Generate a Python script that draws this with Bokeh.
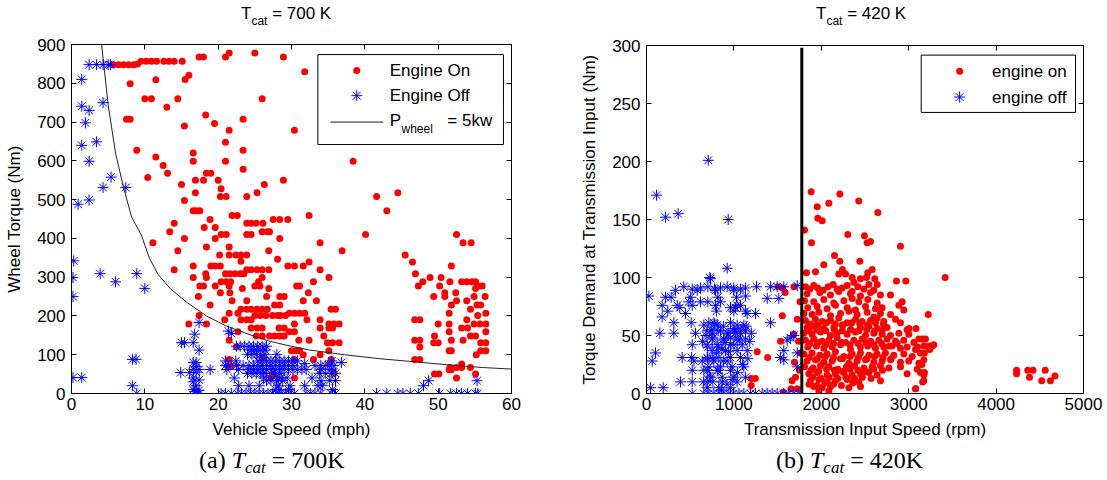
from bokeh.plotting import figure
from bokeh.layouts import row, column
from bokeh.models import Range1d, FixedTicker, LinearAxis, CustomJSTickFormatter, Div
from bokeh.core.properties import value
from bokeh.embed import file_html
from bokeh.resources import INLINE

FONT = "Liberation Sans"
SERIF = "Liberation Serif"
RED = "#ff0000"
BLUE = "#0000ff"

# ---------------- panel (a): Tcat = 700 K ----------------
A_X_TICKS = [0, 10, 20, 30, 40, 50, 60]
A_Y_TICKS = [0, 100, 200, 300, 400, 500, 600, 700, 800, 900]

# engine on: (vehicle speed mph, wheel torque Nm)
A_ON = [
    (5.7, 848), (6.4, 848), (7.1, 848), (7.8, 848), (8.5, 848), (9.0, 850),
    (9.5, 857), (10.2, 857), (10.9, 857), (11.6, 857), (12.6, 857), (13.3, 857), (14.0, 857), (15.1, 857),
    (17.4, 868), (18.0, 868), (21.0, 868), (21.5, 878), (25.0, 878), (28.9, 868),
    (31.8, 830), (8.0, 799), (16.0, 821), (15.5, 810), (11.5, 809),
    (10.0, 760), (10.9, 760), (14.5, 760), (26.0, 760),
    (13.0, 738), (7.5, 707), (8.0, 707), (23.4, 707), (18.3, 718), (19.5, 696), (15.4, 690),
    (21.5, 679), (30.4, 679), (21.0, 648), (8.9, 627), (23.4, 627), (11.5, 610), (21.0, 599),
    (16.6, 599), (38.4, 599), (12.5, 588), (16.6, 620), (23.4, 578), (13.1, 568), (18.4, 568),
    (19.0, 568), (10.4, 557), (16.9, 550), (20.0, 550), (28.9, 550), (18.0, 550), (15.0, 539),
    (26.3, 539), (20.4, 528), (16.9, 518), (25.3, 518), (44.5, 518), (20.3, 508), (21.1, 508),
    (23.9, 508), (41.6, 508), (15.4, 498), (16.6, 471), (17.0, 471), (17.5, 471), (43.0, 471),
    (21.9, 459), (22.6, 459), (32.4, 459), (18.9, 449), (27.5, 449), (28.4, 449), (29.5, 449),
    (14.0, 439), (23.9, 439), (24.5, 439), (25.2, 439), (26.1, 439), (18.1, 428), (19.6, 428),
    (13.4, 417), (26.0, 417), (26.7, 417), (27.0, 417), (20.4, 410), (21.1, 410), (23.9, 410),
    (24.5, 410), (40.1, 410), (15.4, 400), (19.6, 400), (28.4, 400), (11.1, 389), (33.9, 389),
    (21.5, 378), (18.4, 378), (14.5, 368), (26.9, 368), (36.9, 368), (20.2, 357), (21.5, 357),
    (22.4, 357), (23.1, 357), (23.9, 357), (45.5, 357), (28.1, 346), (23.1, 341), (46.5, 339),
    (32.4, 339), (52.5, 410), (53.4, 389), (54.5, 389), (51.8, 329),
    (16.6, 329), (19.0, 329), (19.6, 329), (20.3, 329), (23.9, 319), (24.5, 319), (25.3, 319),
    (26.0, 319), (29.5, 329), (30.4, 329), (31.6, 329),
    (14.0, 319), (26.9, 319), (33.9, 319),
    (18.3, 309), (21.0, 309), (21.6, 309), (22.3, 309), (23.0, 309), (23.5, 309), (46.9, 309),
    (16.6, 299), (18.4, 299), (26.0, 299), (35.1, 299), (48.9, 299), (50.4, 299),
    (20.4, 288), (21.1, 288), (21.7, 288), (25.5, 288), (33.0, 288), (47.9, 288), (51.6, 288),
    (53.2, 288), (53.9, 288), (54.6, 288), (55.1, 288),
    (17.5, 277), (18.0, 277), (19.6, 277), (21.5, 277), (25.0, 277), (25.7, 277), (30.7, 277),
    (31.1, 277), (47.3, 277), (50.2, 277), (55.5, 277), (56.0, 277),
    (23.3, 271), (26.9, 271), (55.1, 271),
    (20.3, 260), (21.6, 260), (32.3, 260), (50.9, 260), (52.4, 260),
    (17.3, 250), (26.6, 250), (28.4, 250), (29.0, 250), (49.4, 250), (50.9, 250), (54.9, 250), (56.4, 250),
    (21.9, 239), (23.9, 239), (31.6, 239), (33.4, 239), (52.5, 239), (53.9, 239),
    (18.9, 228), (27.7, 228), (28.4, 228), (51.8, 228), (55.3, 228), (55.8, 228),
    (23.1, 217), (23.9, 217), (24.5, 217), (25.3, 217), (26.0, 217), (26.7, 217), (35.4, 217),
    (36.0, 217), (54.4, 217),
    (21.5, 207), (22.7, 207), (29.7, 207), (30.4, 207), (31.1, 207), (31.8, 207), (51.5, 207), (56.5, 207),
    (17.4, 201), (25.0, 201), (25.7, 201), (26.5, 201), (27.4, 201), (28.1, 201), (28.5, 201),
    (29.2, 201), (55.4, 201),
    (20.9, 190), (23.1, 190), (23.9, 190), (24.5, 190), (32.1, 190), (33.9, 190), (46.8, 190),
    (47.5, 190), (53.9, 190),
    (16.0, 179), (18.4, 179), (30.4, 179), (35.1, 179), (35.8, 179), (36.5, 179), (50.0, 179),
    (51.5, 179), (54.9, 179), (55.7, 179), (56.5, 179),
    (24.5, 169), (25.3, 169), (26.0, 169), (28.3, 169), (29.0, 169), (33.9, 169), (35.1, 169),
    (35.6, 169), (53.2, 169), (54.0, 169),
    (22.7, 159), (29.7, 159), (30.4, 159), (51.5, 159), (56.5, 159),
    (25.2, 148), (26.0, 148), (27.0, 148), (27.7, 148), (28.4, 148), (29.0, 148), (34.4, 148),
    (49.5, 148), (54.4, 148), (55.1, 148),
    (21.5, 137), (31.0, 137), (32.4, 137), (46.8, 137), (47.5, 137), (51.8, 137), (53.4, 137),
    (49.4, 131), (50.0, 131), (55.8, 131), (56.5, 131), (34.9, 131), (35.6, 131), (36.5, 131),
    (22.5, 120), (47.5, 120),
    (30.0, 110), (30.6, 110), (31.1, 110), (35.1, 110), (51.5, 110), (51.8, 110), (55.8, 110), (56.5, 110),
    (31.6, 100), (33.9, 100), (55.2, 100),
    (21.5, 88), (30.4, 88), (33.0, 88), (35.4, 88), (46.8, 88), (47.5, 88),
    (53.2, 76), (51.6, 67), (52.5, 67), (53.2, 67), (54.4, 67), (51.5, 61), (51.8, 61),
    (49.5, 50), (50.1, 50), (27.5, 50), (55.1, 50), (30.4, 40), (52.5, 40),
    (21.8, 70), (27.2, 42), (35.2, 77), (35.8, 52), (26.0, 92),
]

# engine off: (vehicle speed mph, wheel torque Nm)
A_OFF = [
    (2.4, 848), (3.4, 848), (4.3, 848), (5.0, 848), (5.3, 848),
    (1.4, 810), (4.3, 750), (1.4, 741), (2.4, 730), (1.9, 698), (3.4, 649), (1.4, 640),
    (2.4, 599), (5.4, 558), (4.3, 531), (7.4, 531), (2.4, 499), (0.9, 488),
    (0.3, 342), (3.9, 309), (8.9, 309), (0.2, 299), (6.0, 288), (10.0, 271), (0.2, 250),
    (8.3, 88), (8.8, 88), (0.2, 41), (1.4, 41), (8.3, 20), (8.9, 0),
    (17.4, 183), (21.4, 161), (21.8, 155), (16.8, 153), (15.0, 131), (15.4, 131), (16.6, 131),
    (17.4, 112), (14.9, 54), (16.1, 54), (18.9, 62),
    (16.6, 80), (17.0, 80), (17.0, 70), (17.4, 62), (16.6, 62), (17.0, 55), (16.6, 40),
    (17.4, 35), (16.6, 30), (17.0, 20), (16.6, 10), (17.4, 8), (17.0, 0), (17.4, 0), (16.8, 5),
    (22.5, 122), (23.0, 122), (23.6, 122), (24.2, 122), (24.8, 122), (25.4, 122), (26.0, 122), (26.6, 122),
    (24.5, 112), (25.2, 112), (25.8, 112), (26.4, 112),
    (24.0, 101), (24.6, 101), (25.2, 101), (25.8, 101), (26.4, 101), (28.0, 101),
    (21.0, 84), (22.4, 84), (25.4, 84), (26.0, 84), (26.6, 84), (27.2, 84), (27.8, 84), (28.4, 84),
    (29.0, 84), (29.6, 84), (30.2, 84), (30.8, 84), (35.5, 84), (36.8, 80),
    (21.0, 72), (21.4, 72), (22.5, 72), (23.4, 72), (24.2, 72), (24.8, 72), (25.4, 72), (26.0, 72),
    (26.6, 72), (27.2, 72), (27.8, 72), (28.4, 72), (29.0, 72), (29.6, 72), (30.2, 72), (33.2, 72),
    (34.0, 72), (34.6, 72), (35.2, 72), (35.8, 72),
    (21.2, 62), (22.8, 62), (24.2, 62), (24.8, 62), (25.4, 62), (26.0, 62), (26.6, 62), (27.2, 62),
    (27.8, 62), (28.4, 62), (29.0, 62), (29.6, 62), (30.2, 62), (30.8, 62), (31.4, 62), (32.0, 62),
    (34.0, 62), (35.4, 62),
    (24.0, 52), (24.6, 52), (25.2, 52), (25.8, 52), (26.4, 52), (27.6, 52), (28.4, 52), (33.8, 52),
    (34.6, 52), (35.4, 52), (36.0, 52),
    (22.2, 40), (26.2, 40), (28.0, 40), (28.6, 40), (29.4, 40), (32.8, 40),
    (26.6, 33), (27.2, 33), (28.0, 33), (28.8, 33), (34.0, 33), (35.2, 33), (36.0, 33),
    (22.8, 20), (24.2, 20), (25.6, 20), (28.2, 20), (29.8, 20), (31.8, 20), (33.6, 20), (34.2, 20),
    (27.8, 10), (28.4, 10), (29.6, 10), (35.6, 10),
    (20.4, 0), (21.0, 0), (21.8, 0), (22.6, 0), (23.2, 0), (23.8, 0), (24.4, 0), (25.0, 0),
    (25.6, 0), (26.2, 0), (26.8, 0), (27.4, 0), (28.0, 0), (28.6, 0), (29.2, 0), (29.8, 0),
    (30.4, 0), (32.0, 0), (32.6, 0), (33.2, 0), (34.0, 0), (35.4, 0), (36.0, 0),
    (41.6, 0), (43.0, 0), (44.5, 0), (45.2, 0), (46.2, 0), (47.3, 0),
    (50.2, 0), (51.7, 0), (52.5, 0), (53.2, 0), (54.0, 0), (55.1, 0), (55.4, 0),
    (48.0, 20), (48.7, 33), (55.3, 33), (31.8, 77),
]

# P_wheel = 5 kW curve
CURVE_SPEED = [4.1, 5.0, 6.0, 7.1, 8.2, 9.5, 10.6, 11.8, 13.5, 15.8, 18.4, 21.0, 24.1, 27.0,
               29.2, 32.5, 37.2, 41.9, 46.6, 51.3, 56.0, 60.0]
CURVE_TORQUE = [900, 745, 620, 531, 455, 410, 350, 307, 270, 234, 200, 175, 153, 135,
                125, 112, 100, 90, 82, 74, 67, 63]

# ---------------- panel (b): Tcat = 420 K ----------------
B_X_TICKS = [0, 1000, 2000, 3000, 4000, 5000]
B_Y_TICKS = [0, 50, 100, 150, 200, 250, 300]
B_THRESHOLD_RPM = 1777

# engine on: (transmission input speed rpm, torque demand Nm)
B_ON = [
    (1884, 174), (2212, 172), (2429, 166), (1953, 161), (2086, 164), (1960, 151), (2010, 149),
    (2647, 156), (1808, 141), (1888, 130), (2303, 137), (2494, 136), (2525, 130), (2563, 131),
    (2906, 127), (3417, 100), (2860, 97), (2967, 97),
    (2151, 119), (2212, 114), (2441, 114), (2029, 111), (1934, 105), (1830, 104), (2582, 107),
    (2517, 100), (2242, 107), (2353, 100), (2532, 104), (2200, 103), (2372, 96), (2612, 99),
    (2639, 94), (2277, 103), (2448, 99),
    (1819, 92), (1869, 90), (1914, 93), (1960, 91), (2021, 89), (2078, 92), (2136, 94), (2181, 90),
    (2239, 91), (2296, 93), (2353, 88), (2418, 92), (2487, 90), (2544, 94), (2601, 89),
    (1838, 86), (1983, 87), (2105, 85), (2200, 88), (2334, 86), (2448, 84), (2563, 87), (2677, 85),
    (1808, 80), (1914, 79), (2029, 81), (2143, 78), (2258, 80), (2353, 82), (2429, 79), (2532, 81),
    (2639, 78), (2792, 85), (2925, 79),
    (1846, 74), (1953, 75), (2067, 73), (2162, 76), (2296, 74), (2391, 72), (2506, 75), (2620, 73),
    (2696, 74), (2887, 76), (2944, 72),
    (1800, 69), (1895, 68), (1972, 70), (2105, 67), (2220, 69), (2315, 71), (2410, 68), (2525, 70),
    (2601, 66), (2677, 69), (2792, 68), (3224, 68),
    (1819, 63), (1933, 64), (2010, 62), (2105, 63), (2200, 65), (2296, 61), (2391, 64), (2467, 62),
    (2563, 63), (2639, 65), (2715, 62), (2849, 64), (2906, 61),
    (1838, 57), (1914, 58), (2029, 56), (2143, 57), (2239, 59), (2334, 55), (2448, 57), (2544, 58),
    (2639, 56), (2753, 57), (2982, 55), (3004, 56), (3084, 56), (3192, 47),
    (1800, 52), (1895, 51), (1991, 53), (2105, 50), (2181, 52), (2296, 51), (2391, 53), (2506, 50),
    (2601, 52), (2696, 51), (2792, 50), (2887, 52), (3001, 51), (3116, 47),
    (1819, 46), (1914, 47), (2010, 45), (2086, 46), (2181, 48), (2277, 44), (2372, 46), (2467, 47),
    (2563, 45), (2658, 46), (2753, 47), (2849, 45), (2944, 46), (3059, 44), (3154, 47), (3230, 41),
    (3287, 42),
    (1846, 40), (1945, 41), (2029, 39), (2124, 40), (2220, 42), (2334, 38), (2448, 40), (2532, 41),
    (2620, 39), (2715, 40), (2811, 41), (2906, 39), (2982, 40), (3078, 38), (3173, 41), (3249, 40),
    (1800, 34), (1895, 35), (1983, 33), (2067, 34), (2162, 36), (2258, 32), (2353, 34), (2448, 35),
    (2544, 33), (2639, 34), (2734, 35), (2830, 33), (2944, 34), (3040, 32), (3135, 35),
    (1838, 28), (1933, 29), (2029, 27), (2124, 28), (2220, 30), (2315, 26), (2410, 28), (2506, 29),
    (2601, 27), (2696, 28), (2792, 29), (2906, 27), (3001, 28), (3116, 26), (3173, 29),
    (1808, 23), (1907, 22), (1991, 24), (2086, 23), (2189, 21), (2288, 23), (2380, 24), (2487, 22),
    (2582, 23), (2677, 24), (2773, 22), (2906, 23), (3097, 21),
    (1857, 17), (1953, 18), (2067, 16), (2162, 17), (2258, 18), (2353, 16), (2448, 17), (2544, 18),
    (2639, 16), (2982, 17), (3135, 18), (3173, 16),
    (1876, 11), (1972, 12), (2067, 10), (2162, 11), (2296, 12), (2429, 10), (2677, 11), (3173, 11),
    (1914, 6), (2010, 5), (2105, 6), (2315, 5), (2448, 6), (3078, 4), (1972, 2), (2086, 2),
    (1870, 43), (1960, 44), (2050, 42), (2140, 43), (2230, 44), (2330, 42), (2420, 43), (2510, 44),
    (2600, 42), (2690, 43), (2780, 41), (2870, 43),
    (1860, 31), (1955, 30), (2045, 32), (2140, 31), (2240, 30), (2330, 32), (2425, 31), (2520, 30),
    (2610, 32), (2705, 31), (2800, 30),
    (1880, 20), (1970, 19), (2060, 21), (2150, 20), (2240, 19), (2330, 21), (2420, 20), (2510, 19),
    (2600, 21), (2700, 20),
    (1870, 60), (1960, 59), (2060, 61), (2160, 60), (2250, 59), (2350, 61), (2440, 60), (2530, 59),
    (2620, 61), (2710, 60),
    (1860, 54), (1950, 55), (2050, 54), (2150, 55), (2240, 54), (2340, 55), (2430, 54), (2520, 55),
    (2610, 54), (2700, 55),
    (1900, 14), (2000, 13), (2090, 14), (2190, 13), (2280, 14), (2380, 13), (2470, 14), (2570, 13),
    (1860, 8), (1950, 7), (2040, 9), (2140, 8), (2230, 7), (2360, 9),
    (1558, 91), (1586, 87), (1506, 92), (1554, 67), (1534, 45), (1266, 36), (1386, 31), (1198, 13),
    (1246, 13), (1198, 7), (1686, 92), (1725, 64), (1757, 79), (1686, 51), (1693, 27), (1705, 14),
    (1666, 11), (1654, 4), (1725, 4), (1566, 1), (1740, 45), (1760, 35), (1750, 20),
    (3100, 40), (3180, 35), (3240, 38), (3270, 41), (3150, 25), (3180, 18), (3160, 10), (3080, 4),
    (4234, 20), (4234, 17), (4362, 20), (4422, 20), (4382, 14), (4562, 20), (4522, 11), (4622, 11),
    (4673, 15),
]

# engine off: (transmission input speed rpm, torque demand Nm)
B_OFF = [
    (706, 201), (115, 171), (217, 152), (362, 155), (935, 150), (923, 108), (725, 100), (732, 99),
    (27, 84),
    (427, 92), (523, 90), (618, 91), (702, 92), (778, 90), (847, 91), (923, 92), (999, 91),
    (1076, 90), (1133, 91), (1259, 92), (1419, 92), (1495, 92), (1571, 92), (1724, 93),
    (332, 89), (580, 89), (790, 89), (999, 89),
    (217, 83), (282, 83), (504, 83), (816, 83), (1030, 83), (1133, 84),
    (484, 79), (618, 79), (702, 79), (847, 79), (1381, 82), (1514, 82),
    (179, 76), (351, 76), (523, 76), (790, 76), (1037, 76), (1076, 76),
    (244, 71), (801, 71), (999, 71), (1133, 71),
    (381, 74), (961, 74), (1018, 74),
    (446, 69), (1152, 69), (1247, 69), (179, 66),
    (313, 61), (511, 61), (713, 61), (771, 61), (961, 61), (1419, 61),
    (656, 59), (809, 59), (1037, 59), (1114, 59),
    (153, 52), (313, 52), (561, 52), (751, 52), (923, 52), (1076, 52),
    (694, 54), (847, 54), (999, 54), (1133, 54),
    (1686, 50), (1648, 48), (1610, 46),
    (751, 47), (885, 47), (1037, 47), (1133, 47),
    (523, 42), (694, 42), (809, 42), (961, 42), (1095, 42),
    (751, 37), (904, 37), (1037, 37), (1152, 37), (1571, 37),
    (103, 35), (1724, 35),
    (408, 31), (515, 31), (694, 31), (828, 31), (961, 31), (1076, 31), (1533, 31), (1571, 29),
    (65, 28), (542, 28), (637, 28), (771, 28), (923, 28),
    (713, 23), (847, 23), (980, 23), (1114, 23), (1724, 23),
    (523, 20), (656, 20), (809, 20), (961, 20),
    (732, 14), (866, 14), (999, 14), (1133, 14),
    (389, 10), (523, 10), (694, 10), (866, 10), (1037, 10),
    (46, 5), (191, 5), (694, 5), (828, 5), (961, 5),
    (523, 0), (656, 0), (713, 0), (771, 0), (828, 0), (885, 0), (942, 0), (999, 0), (1057, 0),
    (1114, 0), (1190, 0), (1247, 0), (1324, 0), (1381, 0), (1438, 0), (1495, 0), (1571, 0),
    (1629, 0), (1686, 0), (1743, 0),
    (760, 10), (820, 20), (880, 28), (940, 36), (1000, 42), (1060, 46),
    (700, 20), (760, 30), (820, 40), (880, 46), (940, 52), (1000, 56),
    (700, 40), (760, 48), (820, 54), (880, 58),
    (650, 10), (700, 30), (740, 55), (780, 60), (640, 45), (680, 50), (720, 15), (800, 35),
    (860, 38), (900, 44), (960, 48), (1020, 52), (1080, 55), (1140, 58), (1180, 45), (1200, 52),
    (1160, 30), (1100, 25), (1040, 18), (980, 12), (920, 8), (860, 3),
]


def split(points):
    return [p[0] for p in points], [p[1] for p in points]


def make_fig(width, height, xr, yr, xticks, yticks, border_left, border_right, border_top, border_bottom):
    p = figure(width=width, height=height, x_range=Range1d(*xr), y_range=Range1d(*yr),
               output_backend="svg", toolbar_location=None,
               min_border_left=border_left, min_border_right=border_right,
               min_border_top=border_top, min_border_bottom=border_bottom)
    p.grid.visible = False
    p.outline_line_color = "black"
    p.outline_line_width = 1
    p.background_fill_color = "white"
    p.border_fill_color = "white"
    bottom = p.below[0]
    left = p.left[0]
    bottom.ticker = FixedTicker(ticks=xticks)
    left.ticker = FixedTicker(ticks=yticks)
    top = LinearAxis(ticker=FixedTicker(ticks=xticks), formatter=CustomJSTickFormatter(code="return ''"),
                     major_label_standoff=0)
    right = LinearAxis(ticker=FixedTicker(ticks=yticks), formatter=CustomJSTickFormatter(code="return ''"),
                       major_label_standoff=0)
    p.add_layout(top, "above")
    p.add_layout(right, "right")
    for ax in [bottom, left, top, right]:
        ax.axis_line_color = None
        ax.major_tick_in = 5
        ax.major_tick_out = 0
        ax.minor_tick_in = 0
        ax.minor_tick_out = 0
        ax.major_tick_line_color = "black"
        ax.major_label_text_font = FONT
        ax.major_label_text_font_size = "17px"
        ax.major_label_text_color = "black"
        ax.axis_label_text_font = FONT
        ax.axis_label_text_font_size = "17px"
        ax.axis_label_text_font_style = "normal"
        ax.axis_label_text_color = "black"
    top.major_label_text_font_size = "1px"
    right.major_label_text_font_size = "1px"
    bottom.major_label_standoff = 4
    left.major_label_standoff = 6
    bottom.axis_label_standoff = 7
    left.axis_label_standoff = 10
    return p, bottom, left


def title_div(width, height, left, text):
    html = ('<div style="margin:0; padding:0; margin-left:%dpx; margin-top:4px; font-family:\'Liberation Sans\';'
            ' font-size:17px; line-height:20px; color:black; white-space:nowrap;">'
            'T<span style="font-size:12px; position:relative; top:6px;">cat</span> %s</div>' % (left, text))
    return Div(text=html, width=width, height=height, margin=0)


def caption_div(width, height, left, prefix, text):
    html = ('<div style="margin:0; padding:0; margin-left:%dpx; margin-top:1px; font-family:\'Liberation Serif\';'
            ' font-size:24px; line-height:28px; color:black; white-space:nowrap;">'
            '%s <i>T<span style="font-size:17px; position:relative; top:5px;">cat</span></i> %s</div>'
            % (left, prefix, text))
    return Div(text=html, width=width, height=height, margin=0)


# ---------- figure (a) ----------
p1, b1, l1 = make_fig(575, 411, (0, 60), (0, 900), A_X_TICKS, A_Y_TICKS, 71, 64, 10, 52)
b1.axis_label = "Vehicle Speed (mph)"
l1.axis_label = "Wheel Torque (Nm)"

on_x, on_y = split(A_ON)
off_x, off_y = split(A_OFF)
p1.scatter(on_x, on_y, marker="circle", size=7, fill_color=RED, line_color=None)
p1.scatter(off_x, off_y, marker="asterisk", size=11, line_color=BLUE, line_width=1)
p1.line(CURVE_SPEED, CURVE_TORQUE, line_color="#222222", line_width=1)

# legend (a)
p1.quad(left=[33.6], right=[58.9], bottom=[642], top=[874], fill_color="white", line_color="black", line_width=1)
p1.scatter([38.9], [833], marker="circle", size=7, fill_color=RED, line_color=None)
p1.scatter([38.9], [768], marker="asterisk", size=11, line_color=BLUE, line_width=1)
p1.line([35.3, 42.5], [700, 700], line_color="#222222", line_width=1)
p1.text(x=[43.4, 43.4, 43.4, 51.25], y=[833, 768, 704, 704], text=["Engine On", "Engine Off", "P", "= 5kw"],
        text_font=value(FONT), text_font_size=value("17px"), text_baseline="middle", text_color="black")
p1.text(x=[45.0], y=[681], text=["wheel"], text_font=value(FONT), text_font_size=value("12px"),
        text_baseline="middle", text_color="black")

col1 = column(title_div(575, 34, 241, "= 700 K"), p1, caption_div(575, 35, 199, "(a)", "= 700K"),
              spacing=0)

# ---------- figure (b) ----------
p2, b2, l2 = make_fig(532, 410, (0, 5000), (0, 300), B_X_TICKS, B_Y_TICKS, 71, 24, 10, 52)
b2.axis_label = "Transmission Input Speed (rpm)"
l2.axis_label = "Torque Demand at Transmission Input (Nm)"

on_x, on_y = split(B_ON)
off_x, off_y = split(B_OFF)
p2.scatter(on_x, on_y, marker="circle", size=7, fill_color=RED, line_color=None)
p2.scatter(off_x, off_y, marker="asterisk", size=11, line_color=BLUE, line_width=1)
p2.line([B_THRESHOLD_RPM, B_THRESHOLD_RPM], [0, 298], line_color="black", line_width=3)

# legend (b)
p2.quad(left=[3143], right=[4909], bottom=[242.3], top=[291.7], fill_color="white", line_color="black", line_width=1)
p2.scatter([3583], [277.8], marker="circle", size=7, fill_color=RED, line_color=None)
p2.scatter([3583], [255.6], marker="asterisk", size=11, line_color=BLUE, line_width=1)
p2.text(x=[3954, 3954], y=[277.8, 255.6], text=["engine on", "engine off"],
        text_font=value(FONT), text_font_size=value("17px"), text_baseline="middle", text_color="black")

col2 = column(title_div(532, 35, 241, "= 420 K"), p2, caption_div(532, 35, 201, "(b)", "= 420K"),
              spacing=0)

layout = row(col1, col2, spacing=0)
open("out.html", "w").write(file_html(layout, INLINE))
